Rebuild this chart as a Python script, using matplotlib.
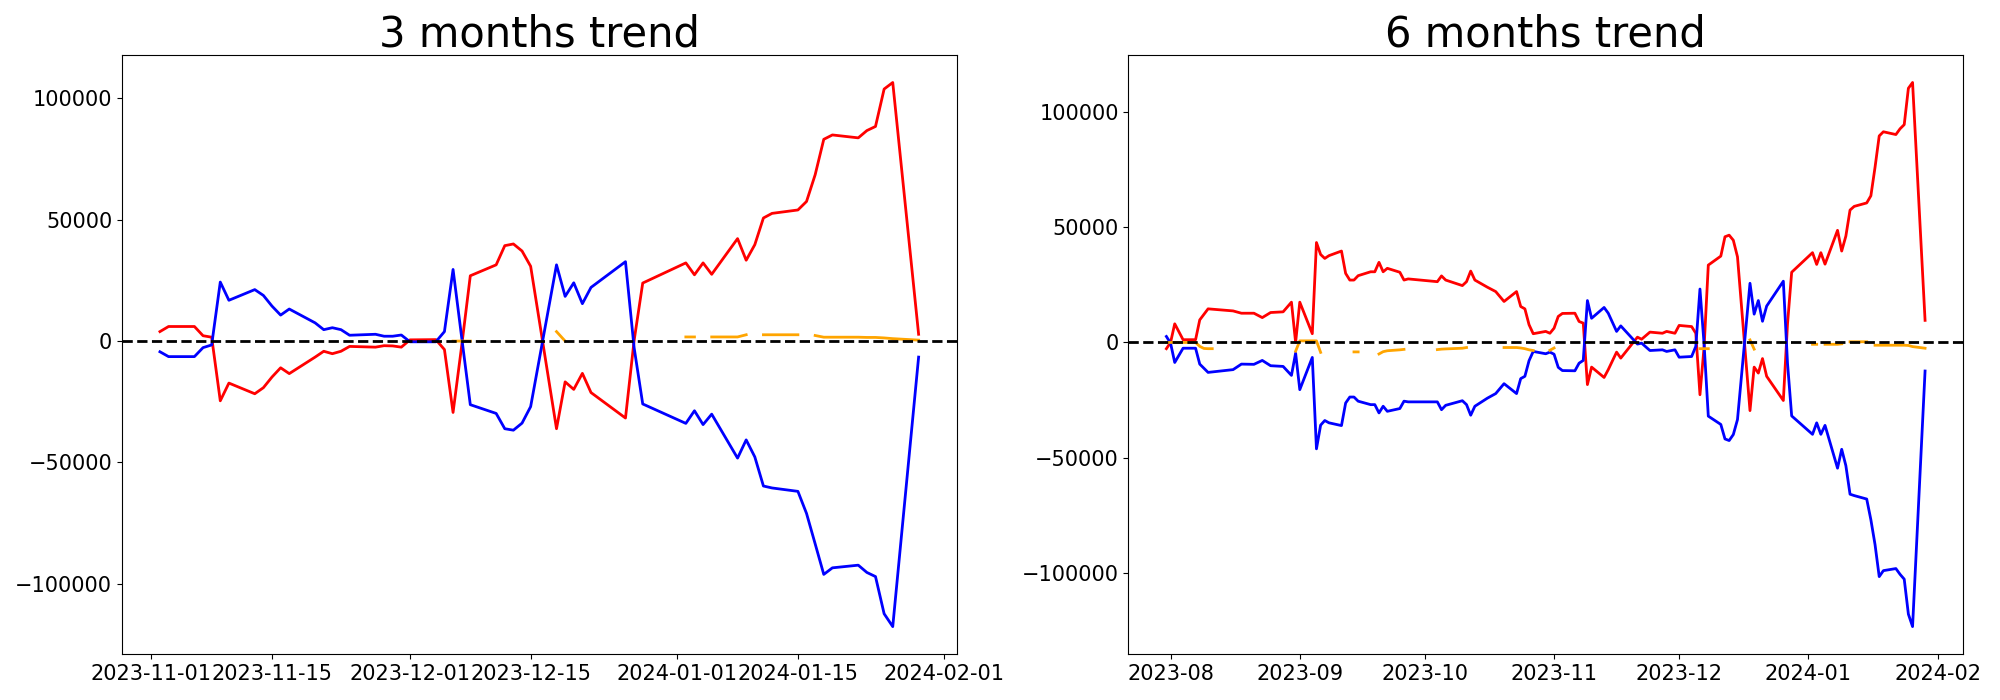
import numpy as np
import pandas as pd
import matplotlib
matplotlib.use("Agg")
import matplotlib.pyplot as plt

nan = np.nan

# ---- 3 months panel ----
dates_3m = ["2023-11-02", "2023-11-03", "2023-11-06", "2023-11-07", "2023-11-08", "2023-11-09",
            "2023-11-10", "2023-11-13", "2023-11-14", "2023-11-15", "2023-11-16", "2023-11-17",
            "2023-11-20", "2023-11-21", "2023-11-22", "2023-11-23", "2023-11-24", "2023-11-27",
            "2023-11-28", "2023-11-29", "2023-11-30", "2023-12-01", "2023-12-04", "2023-12-05",
            "2023-12-06", "2023-12-07", "2023-12-08", "2023-12-11", "2023-12-12", "2023-12-13",
            "2023-12-14", "2023-12-15", "2023-12-18", "2023-12-19", "2023-12-20", "2023-12-21",
            "2023-12-22", "2023-12-26", "2023-12-27", "2023-12-28", "2024-01-02", "2024-01-03",
            "2024-01-04", "2024-01-05", "2024-01-08", "2024-01-09", "2024-01-10", "2024-01-11",
            "2024-01-12", "2024-01-15", "2024-01-16", "2024-01-17", "2024-01-18", "2024-01-19",
            "2024-01-22", "2024-01-23", "2024-01-24", "2024-01-25", "2024-01-26", "2024-01-29"]
red_3m = [3900, 6000, 6000, 2200, 1600, -24600, -17300, -21700, -19200, -14800, -11000, -13400,
          -6600, -4200, -5200, -4200, -2200, -2500, -1900, -2000, -2500, 500, 600, -3500,
          -29400, -2000, 26900, 31400, 39300, 40000, 37100, 30800, -36100, -16800, -19900, -13300,
          -21200, -31700, 200, 23900, 32200, 27300, 32200, 27500, 42200, 33300, 39700, 50700,
          52600, 54000, 57500, 68500, 83100, 84900, 83700, 86700, 88400, 103800, 106500, 2800]
blue_3m = [-4400, -6400, -6400, -2700, -1600, 24300, 16800, 21200, 18800, 14400, 10700, 13200,
           7500, 4700, 5500, 4700, 2400, 2800, 2000, 2000, 2500, -300, -300, 3900,
           29500, 1500, -26200, -29800, -36100, -36700, -33800, -27000, 31400, 18400, 24000, 15400,
           22100, 32700, -2700, -25900, -33900, -28700, -34400, -30100, -48200, -40700, -47700, -59700,
           -60500, -61900, -71000, -83500, -96100, -93400, -92300, -95300, -97000, -112300, -117600, -6600]

orange_dates_3m = ["2023-12-06", "2023-12-07", "2023-12-08", "2023-12-11", "2023-12-18", "2023-12-19",
                   "2023-12-20", "2024-01-02", "2024-01-03", "2024-01-04", "2024-01-05", "2024-01-08",
                   "2024-01-09", "2024-01-10", "2024-01-11", "2024-01-12", "2024-01-15", "2024-01-16",
                   "2024-01-17", "2024-01-18", "2024-01-19", "2024-01-22", "2024-01-23", "2024-01-24",
                   "2024-01-25", "2024-01-26", "2024-01-29"]
orange_3m = [0, 0, 0, nan, 3900, 0, nan, 1700, 1700, nan, 1700, 1700,
             2600, nan, 2600, 2600, 2600, nan, 2300, 1600, 1600, 1600, 1500, 1500,
             1300, 1000, 400]

# ---- 6 months panel ----
dates_6m = ["2023-07-31", "2023-08-01", "2023-08-02", "2023-08-04", "2023-08-07", "2023-08-08",
            "2023-08-10", "2023-08-16", "2023-08-18", "2023-08-21", "2023-08-23", "2023-08-25",
            "2023-08-28", "2023-08-30", "2023-08-31", "2023-09-01", "2023-09-04", "2023-09-05",
            "2023-09-06", "2023-09-07", "2023-09-08", "2023-09-11", "2023-09-12", "2023-09-13",
            "2023-09-14", "2023-09-15", "2023-09-18", "2023-09-19", "2023-09-20", "2023-09-21",
            "2023-09-22", "2023-09-25", "2023-09-26", "2023-09-27", "2023-10-04", "2023-10-05",
            "2023-10-06", "2023-10-10", "2023-10-11", "2023-10-12", "2023-10-13", "2023-10-16",
            "2023-10-18", "2023-10-20", "2023-10-23", "2023-10-24", "2023-10-25", "2023-10-26",
            "2023-10-27", "2023-10-30", "2023-10-31", "2023-11-01", "2023-11-02", "2023-11-03",
            "2023-11-06", "2023-11-07", "2023-11-08", "2023-11-09", "2023-11-10", "2023-11-13",
            "2023-11-14", "2023-11-16", "2023-11-17", "2023-11-21", "2023-11-22", "2023-11-24",
            "2023-11-27", "2023-11-28", "2023-11-30", "2023-12-01", "2023-12-04", "2023-12-05",
            "2023-12-06", "2023-12-07", "2023-12-08", "2023-12-11", "2023-12-12", "2023-12-13",
            "2023-12-14", "2023-12-15", "2023-12-18", "2023-12-19", "2023-12-20", "2023-12-21",
            "2023-12-22", "2023-12-26", "2023-12-27", "2023-12-28", "2024-01-02", "2024-01-03",
            "2024-01-04", "2024-01-05", "2024-01-08", "2024-01-09", "2024-01-10", "2024-01-11",
            "2024-01-12", "2024-01-15", "2024-01-16", "2024-01-17", "2024-01-18", "2024-01-19",
            "2024-01-22", "2024-01-23", "2024-01-24", "2024-01-25", "2024-01-26", "2024-01-29"]
red_6m = [-2700, 0, 8100, 1200, 1200, 9800,
          14600, 13700, 12700, 12700, 10800, 13000,
          13300, 17500, 0, 17500, 3800, 43400,
          38200, 36500, 37700, 39700, 30000, 27100,
          27100, 29000, 30700, 30700, 34800, 30700,
          32200, 30500, 27100, 27600, 26400, 28900,
          27100, 24700, 26400, 31000, 27100, 24000,
          22100, 17800, 22100, 15600, 14600, 7700,
          3800, 4800, 4000, 6200, 11300, 12600,
          12700, 9100, 8400, -18300, -10700, -15200,
          -11800, -4200, -6800, 2300, 1400, 4500,
          4000, 4800, 4000, 7400, 6900, 4000,
          -22700, -1700, 33600, 37500, 45900, 46600,
          44400, 37200, -29600, -10700, -13300, -7000,
          -14700, -25200, 8000, 30500, 39000, 33900,
          39000, 34000, 48700, 39700, 46200, 57500,
          59100, 60600, 63700, 76100, 89700, 91500,
          90300, 92800, 94600, 110400, 112900, 9600]
blue_6m = [2600, -300, -8700, -2500, -2500, -9400,
           -13000, -11800, -9400, -9500, -7800, -10100,
           -10400, -14300, -4600, -20500, -6500, -46200,
           -35900, -33900, -34900, -36100, -26300, -23700,
           -23700, -25500, -27000, -27000, -30600, -27700,
           -29900, -28700, -25500, -25800, -25800, -29200,
           -27300, -25300, -27000, -31600, -27700, -24200,
           -22200, -17900, -22200, -15700, -14700, -7900,
           -3900, -4900, -4200, -5100, -10800, -12200,
           -12300, -9000, -7800, 18200, 10500, 15200,
           12700, 4800, 7200, -700, -300, -3500,
           -3200, -3900, -3200, -6400, -6100, -1700,
           23200, -1000, -32000, -35600, -41900, -42600,
           -40000, -33500, 25700, 12300, 18200, 9200,
           15800, 26600, -9000, -31900, -39900, -34900,
           -39900, -36000, -54600, -46400, -53500, -65900,
           -66500, -68000, -77000, -87800, -101700, -99100,
           -98200, -100700, -102800, -118000, -123400, -12400]

orange_dates_6m = ["2023-07-31", "2023-08-01", "2023-08-02", "2023-08-03", "2023-08-04", "2023-08-07",
                   "2023-08-08", "2023-08-09", "2023-08-10", "2023-08-11", "2023-08-14",
                   "2023-08-31", "2023-09-01", "2023-09-04", "2023-09-05", "2023-09-06", "2023-09-07",
                   "2023-09-14", "2023-09-15", "2023-09-18",
                   "2023-09-20", "2023-09-21", "2023-09-22", "2023-09-25", "2023-09-26", "2023-09-27",
                   "2023-10-04", "2023-10-05", "2023-10-06", "2023-10-10", "2023-10-11", "2023-10-12",
                   "2023-10-20", "2023-10-23", "2023-10-24", "2023-10-25", "2023-10-26", "2023-10-27",
                   "2023-10-30", "2023-10-31", "2023-11-01", "2023-11-02",
                   "2023-12-06", "2023-12-07", "2023-12-08", "2023-12-11",
                   "2023-12-18", "2023-12-19", "2023-12-20",
                   "2024-01-02", "2024-01-03", "2024-01-04", "2024-01-05", "2024-01-08", "2024-01-09",
                   "2024-01-10", "2024-01-11", "2024-01-12", "2024-01-15", "2024-01-16",
                   "2024-01-17", "2024-01-18", "2024-01-19", "2024-01-22", "2024-01-23", "2024-01-24",
                   "2024-01-25", "2024-01-26", "2024-01-29"]
orange_6m = [0, 0, 0, 0, 0, 0,
             -1700, -2600, -2700, -2700, nan,
             -3800, 700, 700, 700, -4300, nan,
             -4100, -4100, nan,
             -5000, -4000, -3600, -3200, -3000, nan,
             -3100, -2900, -2800, -2500, -2200, nan,
             -2200, -2200, -2400, -2700, -3200, -3500,
             nan, -3400, -2400, nan,
             -2700, -2700, -2700, nan,
             1100, -2900, nan,
             -800, -800, nan, -800, -800, -600,
             nan, 300, 300, 300, nan,
             -1200, -1200, -1200, -1200, -1200, -1200,
             -1300, -1800, -2500]

panels = [
    ("3 months trend", dates_3m, red_3m, blue_3m, orange_dates_3m, orange_3m),
    ("6 months trend", dates_6m, red_6m, blue_6m, orange_dates_6m, orange_6m),
]

fig, axes = plt.subplots(1, 2, figsize=(20, 7), dpi=100)
fig.subplots_adjust(left=0.061, right=0.9815, bottom=0.066, top=0.921, wspace=0.206)

for ax, (title, d, red, blue, od, orange) in zip(axes, panels):
    x = pd.to_datetime(d)
    ax.plot(x, red, color="red", linewidth=2)
    ax.plot(x, blue, color="blue", linewidth=2)
    ax.plot(pd.to_datetime(od), orange, color="orange", linewidth=2)
    ax.axhline(0, color="black", linestyle="--", linewidth=2)
    ax.set_title(title, fontsize=30)
    ax.tick_params(axis="both", labelsize=15)

fig.savefig("out.png")
